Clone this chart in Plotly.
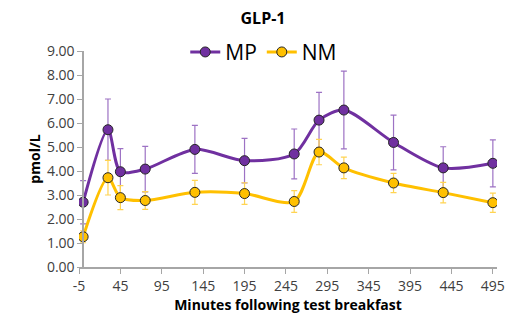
import plotly.graph_objects as go

minutes = [0, 30, 45, 75, 135, 195, 255, 285, 315, 375, 435, 495]
mp_values = [2.70, 5.72, 3.97, 4.08, 4.90, 4.43, 4.71, 6.12, 6.54, 5.19, 4.13, 4.32]
mp_err = [0.90, 1.28, 0.96, 0.95, 1.00, 0.93, 1.04, 1.16, 1.62, 1.14, 0.88, 0.98]
nm_values = [1.26, 3.72, 2.89, 2.77, 3.11, 3.06, 2.73, 4.79, 4.13, 3.50, 3.10, 2.68]
nm_err = [0.25, 0.72, 0.50, 0.37, 0.50, 0.45, 0.45, 0.53, 0.45, 0.40, 0.43, 0.40]
x_ticks = list(range(-5, 496, 50))
x_tick_labels = [str(v) for v in x_ticks]
y_ticks = [0, 1, 2, 3, 4, 5, 6, 7, 8, 9]

font_family = "Open Sans, Liberation Sans, sans-serif"

fig = go.Figure()
fig.add_trace(go.Scatter(
    x=minutes, y=mp_values, name="MP", mode="lines+markers",
    line=dict(color="#7030A0", width=3, shape="spline", smoothing=0.8),
    marker=dict(size=10, color="#7030A0", line=dict(color="#262626", width=1)),
    error_y=dict(type="data", array=mp_err, visible=True, color="#9D72C4", thickness=1.2, width=3),
))
fig.add_trace(go.Scatter(
    x=minutes, y=nm_values, name="NM", mode="lines+markers",
    line=dict(color="#FFC000", width=3, shape="spline", smoothing=0.8),
    marker=dict(size=10, color="#FFC000", line=dict(color="#262626", width=1)),
    error_y=dict(type="data", array=nm_err, visible=True, color="#FFD452", thickness=1.2, width=3),
))

# page body has an 8px default margin; the figure is sized to fit the window
fig.update_layout(
    width=508, height=313,
    margin=dict(l=71, r=19, t=43, b=54),
    paper_bgcolor="white", plot_bgcolor="white",
    font=dict(family=font_family, color="#404040"),
    title=dict(text="<b>GLP-1</b>", x=0.502, xanchor="center", y=0.967, yanchor="middle",
               font=dict(size=16, color="#000000")),
    showlegend=True,
    legend=dict(orientation="h", x=0.442, xanchor="center", y=0.994, yanchor="middle",
                font=dict(size=21, color="#000000"), bgcolor="rgba(0,0,0,0)",
                itemwidth=30, tracegroupgap=0),
    xaxis=dict(
        range=[-5, 500], tickmode="array", tickvals=x_ticks, ticktext=x_tick_labels,
        ticks="outside", ticklen=5, tickcolor="#A6A6A6",
        showline=True, linecolor="#A6A6A6", linewidth=1.5,
        showgrid=False, zeroline=False, automargin=False,
        tickfont=dict(size=14, color="#404040"),
        title=dict(text="<b>Minutes following test breakfast</b>", font=dict(size=14, color="#000000"), standoff=1),
    ),
    yaxis=dict(
        range=[0, 9], tickmode="array", tickvals=y_ticks, tickformat=".2f",
        ticks="outside", ticklen=5, tickcolor="#A6A6A6",
        showline=True, linecolor="#A6A6A6", linewidth=1.5,
        showgrid=False, zeroline=False, automargin=False,
        anchor="free", position=5 / 505,
        tickfont=dict(size=14, color="#404040"),
        title=dict(text="<b>pmol/L</b>", font=dict(size=14, color="#000000"), standoff=2),
    ),
)

fig.write_html("out.html")
